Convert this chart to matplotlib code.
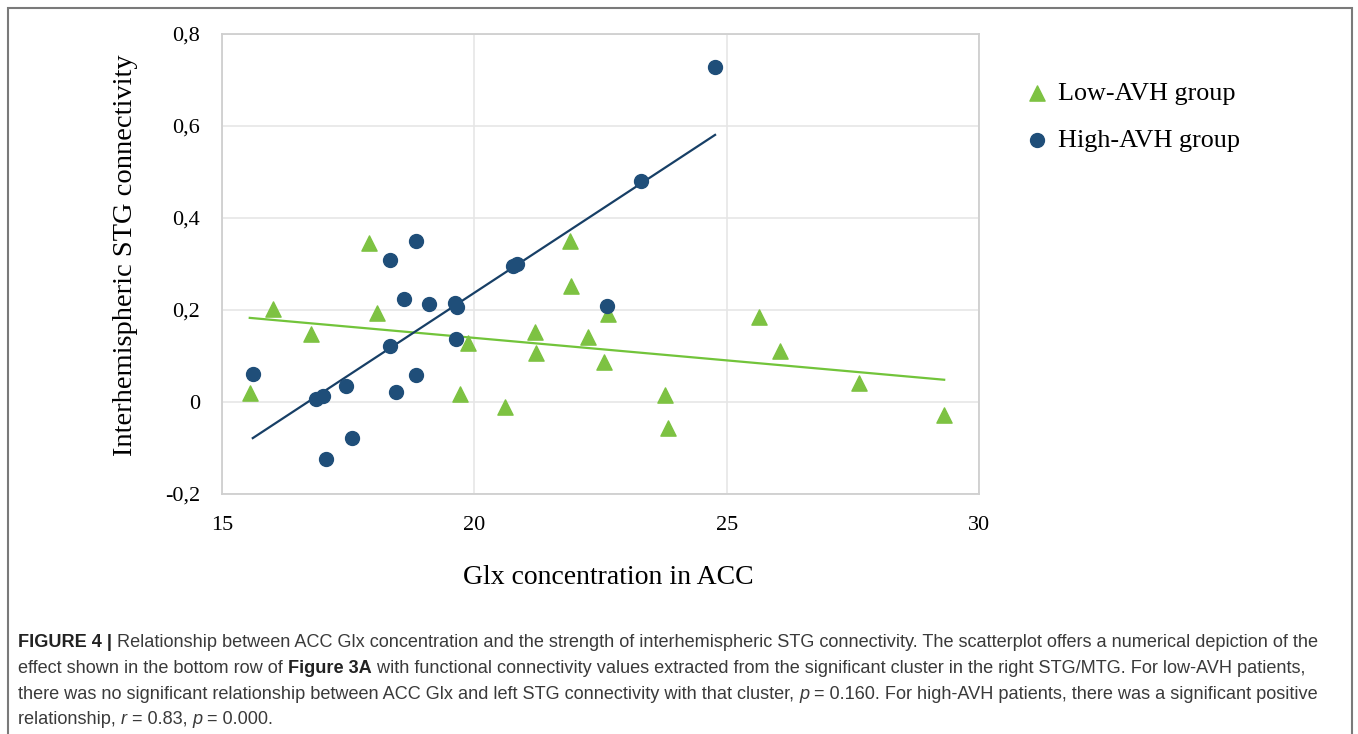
import numpy as np
import matplotlib
matplotlib.use("Agg")
import matplotlib.pyplot as plt
from matplotlib.patches import Rectangle

W, H = 1358, 734

# Low-AVH group (triangles)
low_x = [15.55, 16.01, 16.76, 17.91, 18.07, 19.72, 19.87, 20.61, 21.20, 21.22, 21.90,
         21.92, 22.25, 22.57, 22.65, 23.78, 23.84, 25.64, 26.06, 27.62, 29.31]
low_y = [0.020, 0.202, 0.148, 0.346, 0.193, 0.017, 0.128, -0.011, 0.152, 0.107, 0.350,
         0.252, 0.141, 0.087, 0.191, 0.015, -0.057, 0.185, 0.111, 0.041, -0.028]

# High-AVH group (circles)
high_x = [15.61, 16.86, 17.00, 17.06, 17.46, 17.58, 18.33, 18.33, 18.45, 18.61, 18.84,
          18.84, 19.10, 19.62, 19.64, 19.66, 20.77, 20.84, 22.63, 23.30, 24.77]
high_y = [0.061, 0.006, 0.013, -0.124, 0.035, -0.078, 0.309, 0.122, 0.022, 0.224, 0.350,
          0.059, 0.213, 0.215, 0.137, 0.207, 0.296, 0.300, 0.209, 0.480, 0.728]

x_ticks = [15, 20, 25, 30]
y_ticks = [-0.2, 0, 0.2, 0.4, 0.6, 0.8]
y_tick_labels = ["-0,2", "0", "0,2", "0,4", "0,6", "0,8"]

green = "#7dc242"
green_line = "#72c43a"
navy = "#1f4e79"
navy_line = "#173f66"
serif = "Liberation Serif"

fig = plt.figure(figsize=(W / 100, H / 100), dpi=100)
ax = fig.add_axes([222 / W, 1 - 494 / H, (979 - 222) / W, (494 - 34) / H])

ax.scatter(low_x, low_y, marker="^", s=120, color=green, zorder=3, label="Low-AVH group")
ax.scatter(high_x, high_y, marker="o", s=100, color=navy, zorder=3, label="High-AVH group")

# linear trend lines, like Excel's
for xs, ys, c in [(low_x, low_y, green_line), (high_x, high_y, navy_line)]:
    k, b = np.polyfit(xs, ys, 1)
    xx = np.array([min(xs), max(xs)])
    ax.plot(xx, k * xx + b, color=c, lw=1.6, zorder=2)

ax.set_xlim(15, 30)
ax.set_ylim(-0.2, 0.8)
ax.set_xticks(x_ticks)
ax.set_yticks(y_ticks)
ax.set_yticklabels(y_tick_labels)
ax.grid(True, color="#e6e6e6", lw=1.2)
ax.set_axisbelow(True)
for sp in ax.spines.values():
    sp.set_color("#cfcfcf")
    sp.set_linewidth(1.3)
ax.tick_params(length=0, labelsize=16)
ax.tick_params(axis="x", pad=16)
ax.tick_params(axis="y", pad=16)
for lab in ax.get_xticklabels() + ax.get_yticklabels():
    lab.set_fontfamily(serif)

fig.text(125 / W, 1 - 255 / H, "Interhemispheric STG connectivity", rotation=90,
         ha="center", va="center", fontsize=20.5, family=serif)
fig.text(608 / W, 1 - 577 / H, "Glx concentration in ACC", ha="center", va="center",
         fontsize=20, family=serif)

leg = ax.legend(loc="upper left", bbox_to_anchor=(1014 / W, 1 - 69 / H),
                bbox_transform=fig.transFigure, frameon=False, handlelength=0.78,
                handletextpad=0.42, labelspacing=0.9, borderpad=0,
                prop={"family": serif, "size": 18.8})

# frame round the whole figure
fig.add_artist(Rectangle((8 / W, -0.02), (1352 - 8) / W, (H - 8) / H + 0.02,
                         transform=fig.transFigure, fill=False, edgecolor="#7a7a7a", lw=1.5))

# caption, drawn piece by piece so bold/italic parts line up
caption = [
    [("FIGURE 4 |", "bold", "normal"),
     (" Relationship between ACC Glx concentration and the strength of interhemispheric STG "
      "connectivity. The scatterplot offers a numerical depiction of the", "normal", "normal")],
    [("effect shown in the bottom row of ", "normal", "normal"),
     ("Figure 3A", "bold", "normal"),
     (" with functional connectivity values extracted from the significant cluster in the "
      "right STG/MTG. For low-AVH patients,", "normal", "normal")],
    [("there was no significant relationship between ACC Glx and left STG connectivity with "
      "that cluster, ", "normal", "normal"),
     ("p", "normal", "italic"),
     (" = 0.160. For high-AVH patients, there was a significant positive", "normal", "normal")],
    [("relationship, ", "normal", "normal"), ("r", "normal", "italic"),
     (" = 0.83, ", "normal", "normal"), ("p", "normal", "italic"),
     (" = 0.000.", "normal", "normal")],
]
baselines = [647, 673, 699, 724]

renderer = fig.canvas.get_renderer()
for line, yb in zip(caption, baselines):
    x = 18
    for txt, weight, style in line:
        t = fig.text(x / W, 1 - yb / H, txt, ha="left", va="baseline", fontsize=13.1,
                     family="Liberation Sans", weight=weight, style=style,
                     color="#222222" if weight == "bold" else "#3a3a3a")
        x = t.get_window_extent(renderer).x1

fig.savefig("out.png", dpi=100)
